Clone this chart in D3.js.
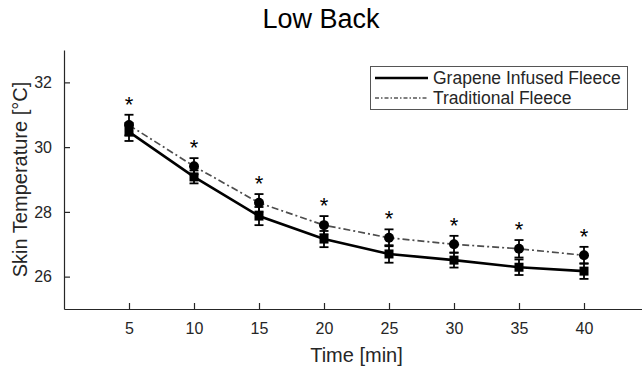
<!DOCTYPE html>
<html>
<head>
<meta charset="utf-8">
<script src="https://cdn.jsdelivr.net/npm/d3@7"></script>
<style>
  body { margin: 0; background: #fff; }
  text { font-family: "Liberation Sans", Arial, sans-serif; }
</style>
</head>
<body>
<div id="chart"></div>
<script>
const times = [5, 10, 15, 20, 25, 30, 35, 40];
const graphene = [30.47, 29.08, 27.87, 27.16, 26.70, 26.51, 26.29, 26.17];
const grapheneErr = [0.28, 0.2, 0.28, 0.25, 0.27, 0.23, 0.24, 0.24];
const traditional = [30.68, 29.41, 28.28, 27.59, 27.20, 27.00, 26.86, 26.66];
const traditionalErr = [0.32, 0.25, 0.27, 0.28, 0.26, 0.26, 0.27, 0.26];
const sigMarks = ['*', '*', '*', '*', '*', '*', '*', '*'];
const xTicks = [5, 10, 15, 20, 25, 30, 35, 40];
const yTicks = [26, 28, 30, 32];
const seriesNames = ['Grapene Infused Fleece', 'Traditional Fleece'];

const width = 642;
const height = 373;
const axisColor = '#262626';

const svg = d3.select('#chart')
    .append('svg')
    .attr('width', width)
    .attr('height', height);

const x = d3.scaleLinear().domain([0, 45]).range([64, 649]);
const y = d3.scaleLinear().domain([25, 33]).range([309, 50]);

// axes (MATLAB style, ticks inside)
const xAxis = svg.append('g')
    .attr('transform', `translate(0,${y(25)})`)
    .call(d3.axisBottom(x).tickValues(xTicks).tickSizeInner(-6).tickSizeOuter(0).tickPadding(14));
const yAxis = svg.append('g')
    .attr('transform', `translate(${x(0)},0)`)
    .call(d3.axisLeft(y).tickValues(yTicks).tickSizeInner(-6).tickSizeOuter(0).tickPadding(12));

[xAxis, yAxis].forEach(ax => {
  ax.select('.domain').attr('stroke', axisColor).attr('stroke-width', 1.2);
  ax.selectAll('.tick line').attr('stroke', axisColor).attr('stroke-width', 1.2);
  ax.selectAll('.tick text')
      .attr('fill', axisColor)
      .style('font-size', '16px')
      .style('font-family', '"Liberation Sans", Arial, sans-serif');
});

svg.append('text')
    .attr('x', (x(0) + x(45)) / 2)
    .attr('y', 362)
    .attr('text-anchor', 'middle')
    .attr('fill', axisColor)
    .style('font-size', '20px')
    .text('Time [min]');

svg.append('text')
    .attr('transform', `translate(27,${(y(25) + y(33)) / 2}) rotate(-90)`)
    .attr('text-anchor', 'middle')
    .attr('fill', axisColor)
    .style('font-size', '20px')
    .text('Skin Temperature [°C]');

svg.append('text')
    .attr('x', 321)
    .attr('y', 28)
    .attr('text-anchor', 'middle')
    .attr('fill', '#000')
    .style('font-size', '27px')
    .text('Low Back');

const line = d3.line()
    .x(d => x(d[0]))
    .y(d => y(d[1]));

const gData = times.map((t, i) => [t, graphene[i], grapheneErr[i]]);
const tData = times.map((t, i) => [t, traditional[i], traditionalErr[i]]);

function errorBars(data, color, width) {
  const g = svg.append('g').attr('stroke', color).attr('stroke-width', width);
  g.selectAll('line.v')
      .data(data).enter().append('line')
      .attr('x1', d => x(d[0])).attr('x2', d => x(d[0]))
      .attr('y1', d => y(d[1] - d[2])).attr('y2', d => y(d[1] + d[2]));
  g.selectAll('line.top')
      .data(data).enter().append('line')
      .attr('x1', d => x(d[0]) - 4.5).attr('x2', d => x(d[0]) + 4.5)
      .attr('y1', d => y(d[1] + d[2])).attr('y2', d => y(d[1] + d[2]));
  g.selectAll('line.bot')
      .data(data).enter().append('line')
      .attr('x1', d => x(d[0]) - 4.5).attr('x2', d => x(d[0]) + 4.5)
      .attr('y1', d => y(d[1] - d[2])).attr('y2', d => y(d[1] - d[2]));
}

// traditional fleece (dash-dot)
svg.append('path')
    .datum(tData)
    .attr('d', line)
    .attr('fill', 'none')
    .attr('stroke', '#4d4d4d')
    .attr('stroke-width', 1.7)
    .attr('stroke-dasharray', '7,3,2,3');
errorBars(tData, '#000', 1.8);
svg.append('g').selectAll('circle')
    .data(tData).enter().append('circle')
    .attr('cx', d => x(d[0]))
    .attr('cy', d => y(d[1]))
    .attr('r', 5)
    .attr('fill', '#000');

// graphene infused fleece (solid)
svg.append('path')
    .datum(gData)
    .attr('d', line)
    .attr('fill', 'none')
    .attr('stroke', '#000')
    .attr('stroke-width', 2.6);
errorBars(gData, '#000', 1.8);
svg.append('g').selectAll('rect')
    .data(gData).enter().append('rect')
    .attr('x', d => x(d[0]) - 4.5)
    .attr('y', d => y(d[1]) - 4.5)
    .attr('width', 9)
    .attr('height', 9)
    .attr('fill', '#000');

// significance stars
svg.append('g').selectAll('text')
    .data(tData).enter().append('text')
    .attr('x', d => x(d[0]))
    .attr('y', d => y(d[1] + d[2]) - 3)
    .attr('text-anchor', 'middle')
    .attr('fill', '#000')
    .style('font-size', '22px')
    .text((d, i) => sigMarks[i]);

// legend
const legend = svg.append('g');
legend.append('rect')
    .attr('x', 370.5)
    .attr('y', 66.5)
    .attr('width', 257)
    .attr('height', 43)
    .attr('fill', '#fff')
    .attr('stroke', '#555')
    .attr('stroke-width', 1);

const legendRows = legend.selectAll('.legend')
    .data(seriesNames)
    .enter().append('g')
    .attr('transform', (d, i) => `translate(0,${78 + i * 20})`);

legendRows.append('line')
    .attr('x1', 375)
    .attr('x2', 428)
    .attr('y1', 0)
    .attr('y2', 0)
    .attr('stroke', (d, i) => i === 0 ? '#000' : '#555')
    .attr('stroke-width', (d, i) => i === 0 ? 2.6 : 1.4)
    .attr('stroke-dasharray', (d, i) => i === 0 ? null : '4,2,1.5,2');

legendRows.append('text')
    .attr('x', 433)
    .attr('y', 0)
    .attr('dy', '.35em')
    .attr('fill', axisColor)
    .style('font-size', '17.5px')
    .text(d => d);
</script>
</body>
</html>
